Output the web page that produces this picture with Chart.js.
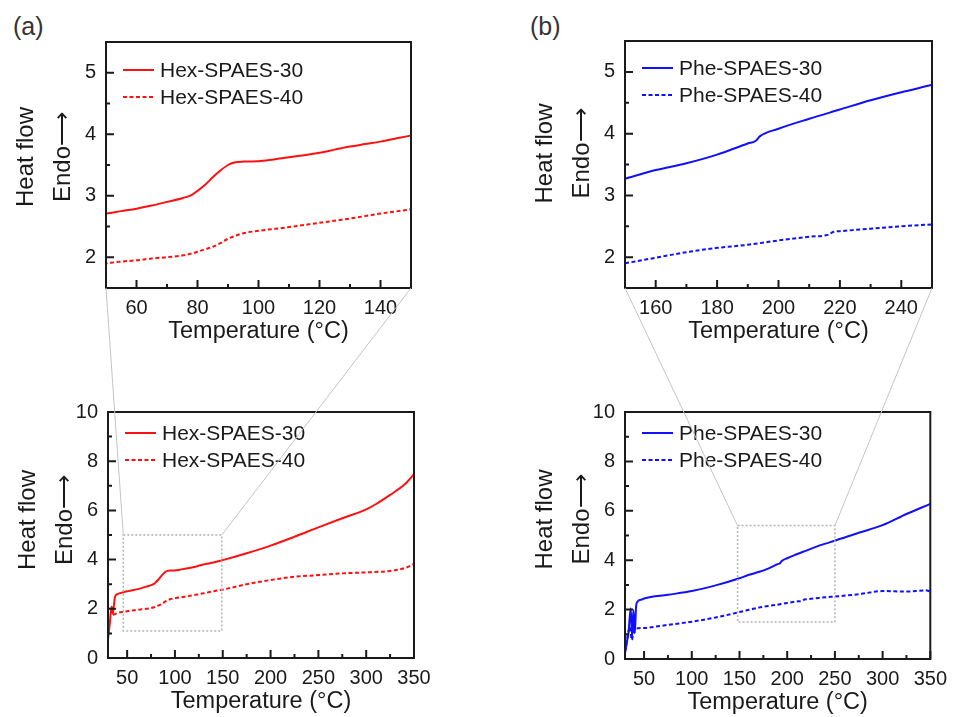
<!DOCTYPE html>
<html>
<head>
<meta charset="utf-8">
<script src="https://cdn.jsdelivr.net/npm/chart.js@4.4.0/dist/chart.umd.min.js"></script>
<style>
  body { margin: 0; background: #fff; }
  #wrap { position: relative; width: 955px; height: 717px; font-family: 'Liberation Sans', Arial, sans-serif; }
  #wrap canvas { position: absolute; }
  .tag { position: absolute; font-size: 25px; color: #333; line-height: 28px; }
</style>
</head>
<body>
<div id="wrap">
  <div class="tag" style="left:13px;top:12px">(a)</div>
  <div class="tag" style="left:530px;top:12px">(b)</div>
  <canvas id="tl" width="478" height="358" style="left:0;top:0"></canvas>
  <canvas id="bl" width="478" height="359" style="left:0;top:358px"></canvas>
  <canvas id="tr" width="477" height="358" style="left:478px;top:0"></canvas>
  <canvas id="br" width="477" height="359" style="left:478px;top:358px"></canvas>
  <canvas id="links" width="955" height="717" style="left:0;top:0;pointer-events:none"></canvas>
</div>
<script>
// DSC traces (temperature in °C, heat flow in a.u.)
var hex30T = [30, 31, 32, 33, 33.8, 35, 36, 37.4, 40, 45, 50, 55, 60, 65, 70, 75, 78, 80, 82.5, 85, 87.5, 90, 92, 95, 100, 105, 110, 115, 120, 125, 130, 135, 140, 145, 150, 175, 200, 225, 250, 275, 300, 310, 325, 340, 350];
var hex30V = [0.75, 1.1, 1.45, 1.9, 2.08, 1.8, 2.1, 2.5, 2.6, 2.66, 2.71, 2.75, 2.79, 2.84, 2.9, 2.96, 3.01, 3.08, 3.18, 3.3, 3.41, 3.5, 3.54, 3.555, 3.56, 3.59, 3.625, 3.66, 3.7, 3.75, 3.8, 3.84, 3.88, 3.93, 3.98, 4.26, 4.57, 4.93, 5.31, 5.68, 6.04, 6.25, 6.63, 7.05, 7.47];
var hex40T = [34, 35, 37, 40, 45, 50, 55, 60, 65, 70, 75, 78, 80, 82.5, 85, 87.5, 90, 92.5, 95, 100, 110, 120, 130, 140, 150, 175, 200, 225, 250, 275, 300, 325, 340, 350];
var hex40V = [2.0, 1.75, 1.78, 1.84, 1.87, 1.9, 1.93, 1.95, 1.98, 2.0, 2.03, 2.06, 2.09, 2.13, 2.17, 2.23, 2.3, 2.35, 2.39, 2.43, 2.49, 2.56, 2.63, 2.71, 2.78, 3.0, 3.17, 3.3, 3.37, 3.44, 3.48, 3.54, 3.65, 3.82];
var phe30T = [30, 32, 33.6, 36, 37.4, 38.8, 40.3, 41.6, 43, 47.6, 50, 75, 100, 125, 150, 160, 170, 180, 190, 192.5, 194, 200, 210, 220, 230, 240, 250, 275, 300, 325, 350];
var phe30V = [0.24, 0.7, 1.04, 2.05, 0.9, 1.98, 1.04, 2.12, 2.32, 2.41, 2.45, 2.6, 2.75, 2.98, 3.27, 3.41, 3.52, 3.66, 3.84, 3.88, 3.96, 4.08, 4.24, 4.39, 4.54, 4.67, 4.79, 5.11, 5.42, 5.87, 6.28];
var phe40T = [30, 31, 33, 35.4, 37, 39.5, 42.4, 50, 75, 100, 125, 150, 160, 170, 180, 190, 200, 210, 216, 218, 220, 230, 240, 250, 275, 300, 325, 345, 350];
var phe40V = [0.3, 0.5, 1.0, 1.3, 0.77, 1.17, 1.24, 1.26, 1.38, 1.51, 1.68, 1.9, 1.99, 2.08, 2.15, 2.2, 2.27, 2.33, 2.36, 2.41, 2.42, 2.46, 2.5, 2.53, 2.62, 2.75, 2.73, 2.78, 2.73];

var hexLabels = ['Hex-SPAES-30', 'Hex-SPAES-40'];
var pheLabels = ['Phe-SPAES-30', 'Phe-SPAES-40'];

// tick values
var xTicksHexZoom = [60, 80, 100, 120, 140];
var xTicksPheZoom = [160, 180, 200, 220, 240];
var xTicksFull = [50, 100, 150, 200, 250, 300, 350];
var yTicksZoom = [2, 3, 4, 5];
var yTicksFull = [0, 2, 4, 6, 8, 10];

// zoom windows drawn on the full-range plots: [xmin, xmax, ymin, ymax]
var boxHex = [46, 149, 1.1, 5.0];
var boxPhe = [148, 250, 1.5, 5.4];

var FONT = "'Liberation Sans', Arial, sans-serif";
var INK = '#1a1a1a';
Chart.defaults.font.family = FONT;
Chart.defaults.color = INK;

function pts(t, v) {
  return t.map(function(x, i) { return {x: x, y: v[i]}; });
}

// frame, inward ticks, zoom box, y title and legend
var decor = {
  id: 'decor',
  afterDatasetsDraw: function(chart, args, o) {
    var ctx = chart.ctx, a = chart.chartArea, xs = chart.scales.x, ys = chart.scales.y;
    ctx.save();
    if (o.box) {
      var b = o.box;
      var x0 = xs.getPixelForValue(b[0]), x1 = xs.getPixelForValue(b[1]);
      var y0 = ys.getPixelForValue(b[3]), y1 = ys.getPixelForValue(b[2]);
      ctx.strokeStyle = '#b4b4b4';
      ctx.lineWidth = 1.5;
      ctx.setLineDash([2, 2]);
      ctx.strokeRect(x0, y0, x1 - x0, y1 - y0);
      ctx.setLineDash([]);
    }
    ctx.strokeStyle = INK;
    ctx.lineWidth = 2;
    ctx.strokeRect(a.left, a.top, a.right - a.left, a.bottom - a.top);

    function ticks(scale, horiz) {
      var tv = scale.ticks.map(function(t) { return t.value; });
      var step = tv[1] - tv[0];
      ctx.beginPath();
      tv.forEach(function(v) {
        var p = scale.getPixelForValue(v);
        if (horiz) { ctx.moveTo(p, a.bottom); ctx.lineTo(p, a.bottom - 8); }
        else { ctx.moveTo(a.left, p); ctx.lineTo(a.left + 8, p); }
      });
      for (var v = tv[0] - step / 2; v < scale.max; v += step) {
        if (v <= scale.min) continue;
        var p = scale.getPixelForValue(v);
        if (horiz) { ctx.moveTo(p, a.bottom); ctx.lineTo(p, a.bottom - 4); }
        else { ctx.moveTo(a.left, p); ctx.lineTo(a.left + 4, p); }
      }
      ctx.stroke();
    }
    ticks(xs, true);
    ticks(ys, false);

    // y axis title, two rotated lines
    ctx.fillStyle = INK;
    ctx.font = '24px ' + FONT;
    ctx.textAlign = 'center';
    ctx.textBaseline = 'middle';
    var cy = (a.top + a.bottom) / 2 - o.titleShift;
    [['Heat flow', a.left - 80], ['Endo\u27F6', a.left - 43]].forEach(function(l) {
      ctx.save();
      ctx.translate(l[1], cy);
      ctx.rotate(-Math.PI / 2);
      ctx.fillText(l[0], 0, 0);
      ctx.restore();
    });

    // legend
    ctx.font = '21px ' + FONT;
    ctx.textAlign = 'left';
    chart.data.datasets.forEach(function(ds, i) {
      var y = a.top + o.legendTop + i * 27;
      var x = a.left + o.legendLeft;
      ctx.strokeStyle = ds.borderColor;
      ctx.lineWidth = 2;
      ctx.setLineDash(ds.borderDash || []);
      ctx.beginPath();
      ctx.moveTo(x, y);
      ctx.lineTo(x + 31, y);
      ctx.stroke();
      ctx.setLineDash([]);
      ctx.fillStyle = INK;
      ctx.fillText(ds.label, x + 37, y + 1);
    });
    ctx.restore();
  }
};

function makeChart(id, s) {
  return new Chart(document.getElementById(id), {
    type: 'line',
    data: {
      datasets: [{
        label: s.labels[0],
        data: pts(s.t30, s.v30),
        borderColor: s.color,
        borderWidth: 2,
        pointRadius: 0,
        cubicInterpolationMode: 'monotone'
      }, {
        label: s.labels[1],
        data: pts(s.t40, s.v40),
        borderColor: s.color,
        borderWidth: 2,
        borderDash: [4, 2.5],
        pointRadius: 0,
        cubicInterpolationMode: 'monotone'
      }]
    },
    options: {
      responsive: false,
      animation: false,
      layout: {padding: s.pad},
      plugins: {
        legend: {display: false},
        tooltip: {enabled: false},
        decor: {box: s.box, titleShift: s.titleShift, legendTop: s.legendTop, legendLeft: 17}
      },
      scales: {
        x: {
          type: 'linear',
          min: s.xmin,
          max: s.xmax,
          grid: {display: false, drawTicks: false},
          border: {display: false},
          ticks: {font: {size: 20}, color: INK, padding: 8, maxRotation: 0},
          afterBuildTicks: function(sc) { sc.ticks = s.xTicks.map(function(v) { return {value: v}; }); },
          afterFit: function(sc) { sc.height = 58; },
          title: {display: true, text: 'Temperature (\u00B0C)', font: {size: 23.5}, color: INK, padding: 0}
        },
        y: {
          type: 'linear',
          min: s.ymin,
          max: s.ymax,
          grid: {display: false, drawTicks: false},
          border: {display: false},
          ticks: {font: {size: 20}, color: INK, padding: 10},
          afterBuildTicks: function(sc) { sc.ticks = s.yTicks.map(function(v) { return {value: v}; }); },
          afterFit: function(sc) { sc.width = 106; }
        }
      }
    },
    plugins: [decor]
  });
}

var RED = '#ff1010', BLUE = '#1010ff';

var tl = makeChart('tl', {
  labels: hexLabels, t30: hex30T, v30: hex30V, t40: hex40T, v40: hex40V, color: RED,
  xmin: 50, xmax: 150, ymin: 1.5, ymax: 5.5, xTicks: xTicksHexZoom, yTicks: yTicksZoom,
  pad: {left: 0, top: 42, right: 67, bottom: 12}, titleShift: 8, legendTop: 28
});
var bl = makeChart('bl', {
  labels: hexLabels, t30: hex30T, v30: hex30V, t40: hex40T, v40: hex40V, color: RED,
  xmin: 30, xmax: 350, ymin: 0, ymax: 10, xTicks: xTicksFull, yTicks: yTicksFull, box: boxHex,
  pad: {left: 2, top: 54, right: 64, bottom: 1}, titleShift: 15, legendTop: 21
});
var tr = makeChart('tr', {
  labels: pheLabels, t30: phe30T, v30: phe30V, t40: phe40T, v40: phe40V, color: BLUE,
  xmin: 150, xmax: 250, ymin: 1.5, ymax: 5.5, xTicks: xTicksPheZoom, yTicks: yTicksZoom,
  pad: {left: 41, top: 41, right: 23, bottom: 12}, titleShift: 11, legendTop: 27
});
var br = makeChart('br', {
  labels: pheLabels, t30: phe30T, v30: phe30V, t40: phe40T, v40: phe40V, color: BLUE,
  xmin: 30, xmax: 350, ymin: 0, ymax: 10, xTicks: xTicksFull, yTicks: yTicksFull, box: boxPhe,
  pad: {left: 41, top: 54, right: 23, bottom: 0}, titleShift: 16, legendTop: 21
});

// thin grey lines joining each zoom window to its enlarged plot
function link(ctx, top, bottom, box) {
  var tc = top.canvas, bc = bottom.canvas, a = top.chartArea;
  var bx0 = bc.offsetLeft + bottom.scales.x.getPixelForValue(box[0]);
  var bx1 = bc.offsetLeft + bottom.scales.x.getPixelForValue(box[1]);
  var by = bc.offsetTop + bottom.scales.y.getPixelForValue(box[3]);
  ctx.beginPath();
  ctx.moveTo(tc.offsetLeft + a.left, tc.offsetTop + a.bottom);
  ctx.lineTo(bx0, by);
  ctx.moveTo(tc.offsetLeft + a.right, tc.offsetTop + a.bottom);
  ctx.lineTo(bx1, by);
  ctx.stroke();
}
var lctx = document.getElementById('links').getContext('2d');
lctx.strokeStyle = '#c4c4c4';
lctx.lineWidth = 1;
link(lctx, tl, bl, boxHex);
link(lctx, tr, br, boxPhe);
</script>
</body>
</html>
